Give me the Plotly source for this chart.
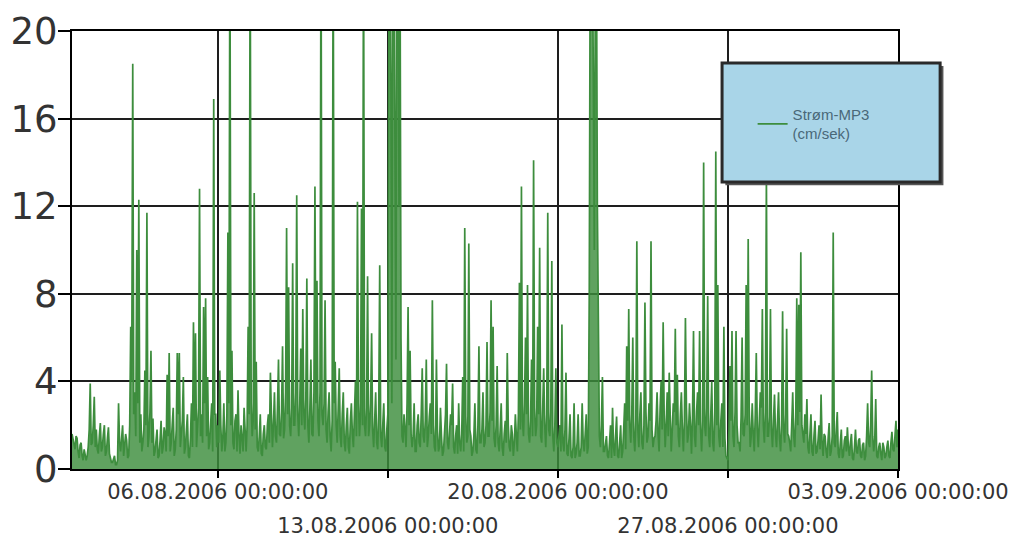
import plotly.graph_objects as go
import pandas as pd

# Current speed (cm/sek), starting 31.07.2006 00:00.
# "even" lists: values at even hours (00, 02, ... 22); "odd" lists: values at odd hours.
even_0731_0805 = [
    1.6, 1.2, 1.5, 0.8, 1.1, 0.6, 0.9, 0.4, 1.0, 3.9, 1.2, 3.3,
    1.8, 0.7, 2.1, 1.0, 2.0, 0.8, 1.9, 0.5, 0.3, 0.6, 0.2, 3.0,
    0.8, 2.0, 1.0, 1.3, 0.6, 6.5, 18.5, 3.5, 10.0, 12.3, 2.5, 1.2,
    4.5, 11.7, 1.5, 5.4, 2.3, 0.8, 1.8, 0.6, 2.2, 1.0, 1.6, 4.3,
    5.3, 1.2, 2.8, 0.9, 5.3, 5.3, 1.5, 4.2, 1.0, 2.5, 0.5, 3.0,
    6.7, 6.2, 1.8, 12.8, 2.5, 7.4, 7.8, 4.2, 1.2, 3.0, 16.9, 2.5,
]
odd_0731_0805 = [
    1.3, 0.9, 1.4, 0.5, 1.2, 0.4, 0.7, 0.6, 1.8, 1.1, 2.0, 1.0,
    0.9, 1.5, 0.8, 1.6, 0.6, 1.4, 0.7, 0.3, 0.5, 0.2, 0.4, 1.2,
    1.4, 0.6, 1.6, 0.5, 2.0, 4.0, 2.5, 1.5, 3.0, 1.2, 0.8, 1.8,
    2.0, 1.0, 2.6, 1.2, 0.6, 1.5, 0.5, 1.3, 0.7, 1.9, 0.8, 1.5,
    0.8, 2.0, 0.6, 1.8, 2.5, 1.0, 2.2, 0.7, 1.6, 0.6, 1.4, 1.0,
    2.2, 1.0, 2.8, 1.5, 1.2, 3.0, 1.5, 0.9, 2.0, 0.8, 2.5, 1.0,
]
even_0806_0812 = [
    2.0, 4.5, 0.8, 3.0, 1.2, 10.8, 25, 5.4, 0.9, 2.5, 3.6, 0.7,
    1.5, 2.8, 0.8, 6.5, 25, 1.5, 12.6, 4.9, 0.8, 2.5, 0.6, 2.0,
    0.9, 2.5, 4.4, 1.0, 3.5, 1.2, 5.0, 1.5, 5.6, 1.8, 11.0, 8.3,
    1.5, 9.4, 2.0, 12.5, 1.5, 5.5, 7.3, 1.8, 8.7, 1.2, 5.0, 1.5,
    12.9, 8.6, 1.5, 25, 2.0, 7.7, 1.2, 3.5, 0.8, 25, 4.9, 1.2,
    4.6, 1.0, 3.5, 0.8, 2.8, 0.7, 3.0, 1.0, 4.0, 12.2, 1.5, 11.9,
    25, 1.5, 8.8, 2.0, 6.2, 1.0, 3.5, 0.9, 9.3, 1.0, 3.0, 0.8,
]
odd_0806_0812 = [
    1.2, 2.0, 1.4, 0.8, 2.5, 3.0, 2.0, 1.2, 2.2, 0.8, 1.5, 2.0,
    0.8, 1.6, 2.0, 2.5, 3.0, 2.2, 1.8, 1.0, 1.5, 0.7, 1.6, 1.0,
    2.0, 1.2, 2.5, 2.0, 1.5, 2.8, 1.6, 2.6, 1.4, 3.5, 2.5, 2.0,
    2.8, 2.0, 3.5, 2.5, 3.0, 2.0, 2.6, 3.2, 2.0, 2.8, 1.6, 3.5,
    3.0, 2.2, 3.5, 2.5, 3.0, 1.8, 2.6, 1.5, 2.2, 3.0, 2.0, 2.8,
    1.5, 2.5, 1.2, 2.0, 1.0, 2.2, 1.6, 2.5, 1.5, 3.0, 2.5, 2.0,
    2.0, 2.8, 1.5, 3.0, 1.8, 2.2, 1.2, 2.6, 1.5, 2.0, 1.0, 1.8,
]
even_0813_0819 = [
    2.5, 25, 3.0, 25, 5.0, 25, 25, 1.5, 2.5, 1.0, 7.4, 5.4,
    1.0, 3.0, 0.8, 2.5, 1.0, 4.6, 1.2, 5.0, 1.5, 3.0, 7.7, 1.0,
    5.0, 0.8, 2.8, 0.6, 2.0, 4.8, 0.9, 2.5, 3.9, 0.7, 2.0, 3.0,
    0.8, 4.2, 11.0, 1.2, 10.3, 1.5, 0.8, 3.0, 0.7, 5.6, 1.2, 3.5,
    1.2, 5.8, 1.5, 7.7, 6.5, 1.0, 4.7, 0.8, 3.0, 0.6, 2.2, 5.3,
    1.0, 2.0, 0.6, 2.5, 0.8, 8.5, 12.9, 1.5, 6.0, 8.4, 1.2, 5.0,
    14.1, 1.5, 6.5, 10.1, 1.2, 4.6, 1.0, 11.7, 1.5, 9.5, 0.8, 4.6,
]
odd_0813_0819 = [
    20, 18, 25, 15, 25, 12, 6.0, 1.2, 1.8, 3.0, 2.0, 1.6,
    1.5, 0.8, 2.0, 1.2, 2.5, 1.5, 2.2, 1.0, 2.4, 1.6, 2.0, 0.8,
    1.8, 1.0, 1.5, 0.8, 2.5, 1.2, 1.6, 2.0, 1.0, 1.5, 0.7, 1.2,
    1.6, 0.8, 2.4, 1.5, 1.8, 0.6, 1.5, 0.9, 2.0, 1.2, 1.8, 1.0,
    2.0, 1.5, 2.6, 2.2, 1.4, 2.0, 1.2, 1.8, 1.0, 1.6, 1.2, 2.0,
    0.8, 1.6, 1.2, 1.5, 2.5, 1.8, 2.2, 3.0, 2.5, 1.6, 2.2, 1.5,
    2.8, 2.0, 2.5, 1.5, 2.8, 2.0, 2.5, 1.8, 2.6, 1.5, 2.0, 1.2,
]
even_0820_0826 = [
    1.0, 2.0, 6.6, 0.8, 4.4, 0.6, 2.5, 0.5, 3.0, 0.7, 2.5, 0.6,
    3.0, 0.8, 2.5, 1.0, 25, 25, 10.0, 25, 5.7, 1.0, 4.2, 0.8,
    1.5, 0.5, 2.0, 2.8, 0.6, 2.4, 0.5, 2.0, 0.8, 3.0, 5.6, 7.3,
    1.2, 6.0, 0.8, 10.4, 1.0, 3.5, 0.9, 7.6, 1.2, 3.0, 10.4, 1.0,
    1.5, 3.5, 0.8, 4.0, 6.7, 1.0, 3.5, 4.4, 0.8, 3.0, 6.4, 4.3,
    1.0, 3.5, 0.8, 6.9, 1.2, 3.0, 0.7, 6.3, 1.0, 3.5, 6.3, 0.8,
    14.0, 1.5, 7.9, 1.0, 4.0, 0.8, 14.5, 8.4, 1.0, 3.0, 6.5, 0.6,
]
odd_0820_0826 = [
    1.5, 0.8, 1.2, 1.8, 0.7, 1.4, 0.6, 1.0, 0.5, 1.2, 0.6, 1.0,
    1.2, 1.6, 0.7, 8.0, 20, 18, 22, 12, 1.5, 2.0, 0.8, 1.2,
    0.6, 1.2, 0.5, 1.0, 1.5, 0.6, 1.2, 0.5, 1.8, 0.9, 2.2, 2.0,
    2.5, 1.5, 2.2, 1.8, 2.5, 1.2, 2.0, 2.6, 1.5, 2.2, 1.8, 1.4,
    2.2, 1.6, 2.8, 1.8, 2.5, 2.0, 1.5, 2.4, 1.8, 2.6, 2.0, 1.5,
    2.5, 1.8, 2.2, 2.8, 1.6, 2.0, 2.4, 1.5, 2.6, 2.0, 1.8, 2.2,
    2.0, 2.8, 1.5, 2.4, 1.2, 2.6, 2.0, 1.5, 2.2, 1.0, 1.4, 0.5,
]
even_0827_0902 = [
    0.4, 4.7, 6.3, 1.0, 6.3, 1.2, 0.8, 6.0, 1.5, 8.4, 10.5, 1.0,
    3.0, 0.8, 5.3, 1.0, 3.5, 7.3, 1.2, 13.5, 1.5, 7.3, 1.0, 3.4,
    1.0, 3.5, 0.8, 7.2, 1.2, 6.4, 1.5, 0.8, 3.5, 1.0, 7.8, 7.5,
    9.9, 1.5, 2.5, 3.2, 0.7, 2.5, 0.6, 2.2, 0.8, 2.0, 3.4, 0.6,
    1.5, 0.5, 2.1, 0.8, 10.8, 1.0, 2.6, 0.5, 1.8, 0.6, 1.5, 1.9,
    0.6, 1.6, 0.4, 1.8, 0.7, 1.4, 0.5, 1.2, 0.6, 3.0, 1.0, 4.5,
    0.8, 3.2, 0.5, 1.2, 0.4, 1.0, 0.6, 1.3, 0.5, 1.7, 0.8, 2.2,
]
odd_0827_0902 = [
    1.8, 2.2, 1.5, 2.6, 2.0, 1.2, 2.4, 1.6, 2.5, 2.0, 2.8, 1.5,
    1.6, 2.5, 1.8, 2.2, 2.8, 2.0, 2.6, 1.5, 2.4, 1.8, 2.2, 1.6,
    2.2, 1.4, 2.0, 1.8, 2.5, 1.6, 1.2, 2.0, 1.5, 2.4, 2.0, 2.6,
    2.0, 1.2, 1.6, 1.0, 1.8, 0.8, 1.5, 0.7, 1.3, 0.9, 1.2, 1.6,
    0.8, 1.4, 0.6, 1.5, 1.2, 1.8, 0.7, 1.2, 0.5, 1.3, 0.8, 1.0,
    1.2, 0.5, 1.0, 0.8, 1.3, 0.6, 1.1, 0.4, 1.5, 1.2, 2.0, 1.5,
    1.3, 0.6, 1.0, 0.7, 1.2, 0.5, 1.0, 0.6, 1.2, 0.9, 1.5, 1.0,
]
last_value_0903 = [1.8]

even_hours = even_0731_0805 + even_0806_0812 + even_0813_0819 + even_0820_0826 + even_0827_0902
odd_hours = odd_0731_0805 + odd_0806_0812 + odd_0813_0819 + odd_0820_0826 + odd_0827_0902
values = []
for e, o in zip(even_hours, odd_hours):
    values.extend([e, o])
values += last_value_0903
times = pd.date_range("2006-07-31 00:00", periods=len(values), freq="1h")

row1_ticks = ["2006-08-06", "2006-08-20", "2006-09-03"]
row1_labels = ["06.08.2006 00:00:00", "20.08.2006 00:00:00", "03.09.2006 00:00:00"]
row2_ticks = ["2006-08-13", "2006-08-27"]
row2_labels = ["13.08.2006 00:00:00", "27.08.2006 00:00:00"]
y_ticks = [0, 4, 8, 12, 16, 20]

x_range = ["2006-07-31 00:00", "2006-09-03 00:00"]
series_name = "Strøm-MP3<br>(cm/sek)"
green = "#3d8d3d"

fig = go.Figure()
# dense under-band of the noisy record
fig.add_trace(go.Scatter(x=times, y=values, mode="lines", showlegend=False,
                         line=dict(width=0), fill="tozeroy",
                         fillcolor="rgba(61,141,61,0.82)", hoverinfo="skip"))
fig.add_trace(go.Scatter(x=times, y=values, mode="lines", name=series_name,
                         line=dict(color=green, width=1.7)))
fig.add_trace(go.Scatter(x=[times[0]], y=[None], xaxis="x2", mode="lines",
                         showlegend=False, hoverinfo="skip"))

tick_font = dict(family="DejaVu Sans", size=21, color="#333333")
grid_col = "#1e1e1e"

fig.update_layout(
    width=1013, height=539,
    margin=dict(l=72, r=115, t=31, b=70),
    paper_bgcolor="white", plot_bgcolor="white",
    showlegend=True,
    xaxis=dict(
        type="date", range=x_range, automargin=False,
        tickvals=row1_ticks + row2_ticks,
        ticktext=row1_labels + ["", ""],
        showgrid=True, gridcolor=grid_col, gridwidth=1.5,
        showline=True, linecolor="black", linewidth=2, mirror=True,
        ticks="outside", ticklen=7, tickwidth=1.5, tickcolor="black",
        tickfont=tick_font, ticklabeloverflow="allow", ticklabelstandoff=-4,
    ),
    xaxis2=dict(
        type="date", range=x_range, overlaying="x", anchor="y", side="bottom",
        automargin=False,
        tickvals=row2_ticks, ticktext=row2_labels,
        showgrid=False, showline=False, ticks="", zeroline=False,
        tickfont=tick_font, ticklabelstandoff=42, ticklabeloverflow="allow",
    ),
    yaxis=dict(
        range=[0, 20], tickvals=y_ticks, ticktext=[str(v) for v in y_ticks],
        automargin=False,
        showgrid=True, gridcolor=grid_col, gridwidth=1.5, zeroline=False,
        showline=True, linecolor="black", linewidth=2, mirror=True,
        ticks="outside", ticklen=12, tickwidth=1.5, tickcolor="black",
        tickfont=dict(family="DejaVu Sans", size=37, color="#333333"),
        ticklabelstandoff=-7,
    ),
    legend=dict(
        x=0.824, y=0.788, xanchor="left", yanchor="middle",
        bgcolor="rgba(0,0,0,0)", borderwidth=0,
        font=dict(family="Liberation Sans", size=15, color="#4a6878"),
    ),
    shapes=[
        dict(type="rect", xref="paper", yref="paper",
             x0=0.791, x1=1.055, y0=0.648, y1=0.920,
             fillcolor="#555555", line=dict(width=0), layer="above"),
        dict(type="rect", xref="paper", yref="paper",
             x0=0.787, x1=1.051, y0=0.655, y1=0.927,
             fillcolor="#a9d5e8", line=dict(color="#2a2a2a", width=3),
             layer="above"),
    ],
)

fig.write_html("out.html")
